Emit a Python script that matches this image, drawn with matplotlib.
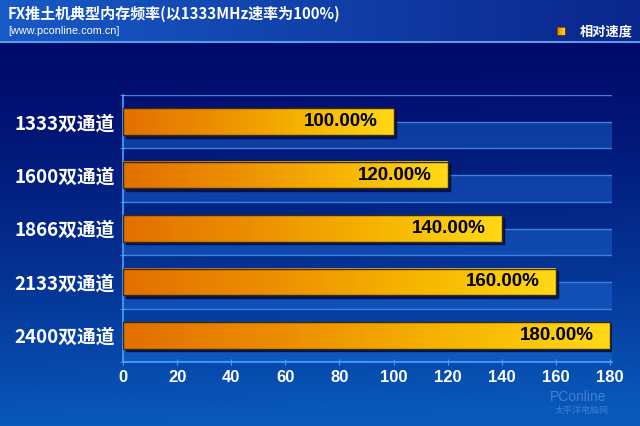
import numpy as np
import matplotlib
matplotlib.use("Agg")
import matplotlib.pyplot as plt
from matplotlib.colors import LinearSegmentedColormap
from matplotlib.patches import Rectangle
import matplotlib.transforms as mtransforms

plt.rcParams['font.family'] = ['Noto Sans CJK SC', 'DejaVu Sans']

# ---- data ----
categories = ["1333双通道", "1600双通道", "1866双通道", "2133双通道", "2400双通道"]
values = [100, 120, 140, 160, 180]
value_labels = ["100.00%", "120.00%", "140.00%", "160.00%", "180.00%"]
xticks = [0, 20, 40, 60, 80, 100, 120, 140, 160, 180]
title = "FX推土机典型内存频率(以1333MHz速率为100%)"
subtitle = "[www.pconline.com.cn]"
legend_label = "相对速度"

W, H = 640, 426
fig = plt.figure(figsize=(W / 100, H / 100), dpi=100)

# ---- background ----
bg = fig.add_axes([0, 0, 1, 1])
bg.set_axis_off()
yy = np.linspace(0, 1, 200)[:, None]
xx = np.linspace(0, 1, 200)[None, :]
top = np.array([0x00, 0x0a, 0x6a]) / 255
bot = np.array([0x08, 0x58, 0xba]) / 255
t = np.clip(yy ** 1.3 + 0.08 * xx * yy, 0, 1)
img = top[None, None, :] * (1 - t[..., None]) + bot[None, None, :] * t[..., None]
bg.imshow(img, extent=[0, W, H, 42], aspect='auto', zorder=0)
# header
hl = np.array([0x18, 0x5a, 0xc6]) / 255
hr = np.array([0x0a, 0x26, 0x8c]) / 255
tx = np.linspace(0, 1, 200)[None, :]
himg = hl[None, None, :] * (1 - tx[..., None]) + hr[None, None, :] * tx[..., None]
himg = np.repeat(himg, 10, axis=0)
bg.imshow(himg, extent=[0, W, 42, 0], aspect='auto', zorder=0)
bg.plot([0, W], [42, 42], color='#5a9ae6', lw=1.5, zorder=1)

fig.text(8 / W, 1 - 14 / H, title, color='white', fontsize=10.8, fontweight='bold',
         va='center', ha='left')
fig.text(8 / W, 1 - 31 / H, subtitle, color='white', fontsize=7.8,
         va='center', ha='left', family=['Liberation Sans', 'DejaVu Sans'])
# legend
lg_cmap = LinearSegmentedColormap.from_list('lg', ['#e88400', '#ffd414'])
bg.imshow(np.linspace(0, 1, 20)[None, :], cmap=lg_cmap, extent=[557, 565, 35, 27],
          aspect='auto', zorder=2)
bg.add_patch(Rectangle((557, 27), 8, 8, fill=False, ec='#704000', lw=0.6, zorder=3))
bg.text(580, 31, legend_label, color='white', fontsize=9.5, fontweight='bold',
        va='center', ha='left')
bg.set_xlim(0, W)
bg.set_ylim(H, 0)

# ---- main axes ----
left_px, right_px, top_px, bot_px = 123, 612, 95, 362
ax = fig.add_axes([left_px / W, 1 - bot_px / H, (right_px - left_px) / W,
                   (bot_px - top_px) / H])
ax.patch.set_alpha(0)
x0_px, x180_px = 123, 610
xmax = 180 * (right_px - left_px) / (x180_px - x0_px)
n = len(categories)
ypos = np.arange(n)

# bands & gridlines
for i in range(n):
    ax.add_patch(Rectangle((0, i), xmax, 0.5, color='#1e6ad6', alpha=0.45, lw=0, zorder=0))
for g in np.arange(-0.5, n + 0.01, 0.5):
    ax.plot([0, xmax], [g, g], color='#3f80dc', lw=1.0, zorder=1)

bar_cmap = LinearSegmentedColormap.from_list(
    'bar', ['#e27000', '#ec8e00', '#f6b400', '#ffd816'])
grad = np.linspace(0, 1, 256)[None, :]
bh = 0.5
shadow_tr = mtransforms.offset_copy(ax.transData, fig=fig, x=2.5, y=-2.5, units='dots')
px_unit = 180 / (x180_px - x0_px)
for i, (v, lab) in enumerate(zip(values, value_labels)):
    ax.add_patch(Rectangle((0, i - bh / 2), v, bh, transform=shadow_tr,
                           color='#000a40', alpha=0.8, zorder=2))
    ax.imshow(grad, cmap=bar_cmap, extent=[0, v, i + bh / 2, i - bh / 2],
              aspect='auto', zorder=3)
    ax.add_patch(Rectangle((0, i - bh / 2), v, bh, fill=False, ec='#3a2a10',
                           lw=1.0, zorder=4))
    ax.text(v - 16 * px_unit, i, lab, color='black', fontsize=13.5, fontweight='bold',
            ha='right', va='center', zorder=5, family=['Liberation Sans', 'DejaVu Sans'])

ax.set_xlim(0, xmax)
ax.set_ylim(n - 0.5, -0.5)
ax.set_xticks(xticks)
ax.set_xticklabels([str(x) for x in xticks], color='white', fontsize=12,
                   fontweight='bold', family=['Liberation Sans', 'DejaVu Sans'])
ax.set_yticks(ypos)
ax.set_yticklabels(categories, color='white', fontsize=13.5, fontweight='bold')
ax.set_yticks(np.arange(-0.5, n, 1.0), minor=True)
ax.tick_params(axis='y', which='major', length=0, pad=6)
ax.tick_params(axis='y', which='minor', length=4, color='#4aa0ff', direction='inout')
ax.tick_params(axis='x', length=4, color='#4aa0ff', direction='inout', pad=4)
for s in ['top', 'right']:
    ax.spines[s].set_visible(False)
ax.spines['left'].set_color('#4aa0ff')
ax.spines['bottom'].set_color('#4aa0ff')
ax.spines['left'].set_linewidth(1.2)
ax.spines['bottom'].set_linewidth(1.2)

# watermark
fig.text(578 / W, 1 - 397 / H, "PConline", color='#8fb6ea', alpha=0.45, fontsize=10,
         ha='center', va='center', family=['Liberation Sans', 'DejaVu Sans'])
fig.text(582 / W, 1 - 410 / H, "太平洋电脑网", color='#8fb6ea', alpha=0.4, fontsize=6.5,
         ha='center', va='center')

fig.savefig('out.png', dpi=100)
